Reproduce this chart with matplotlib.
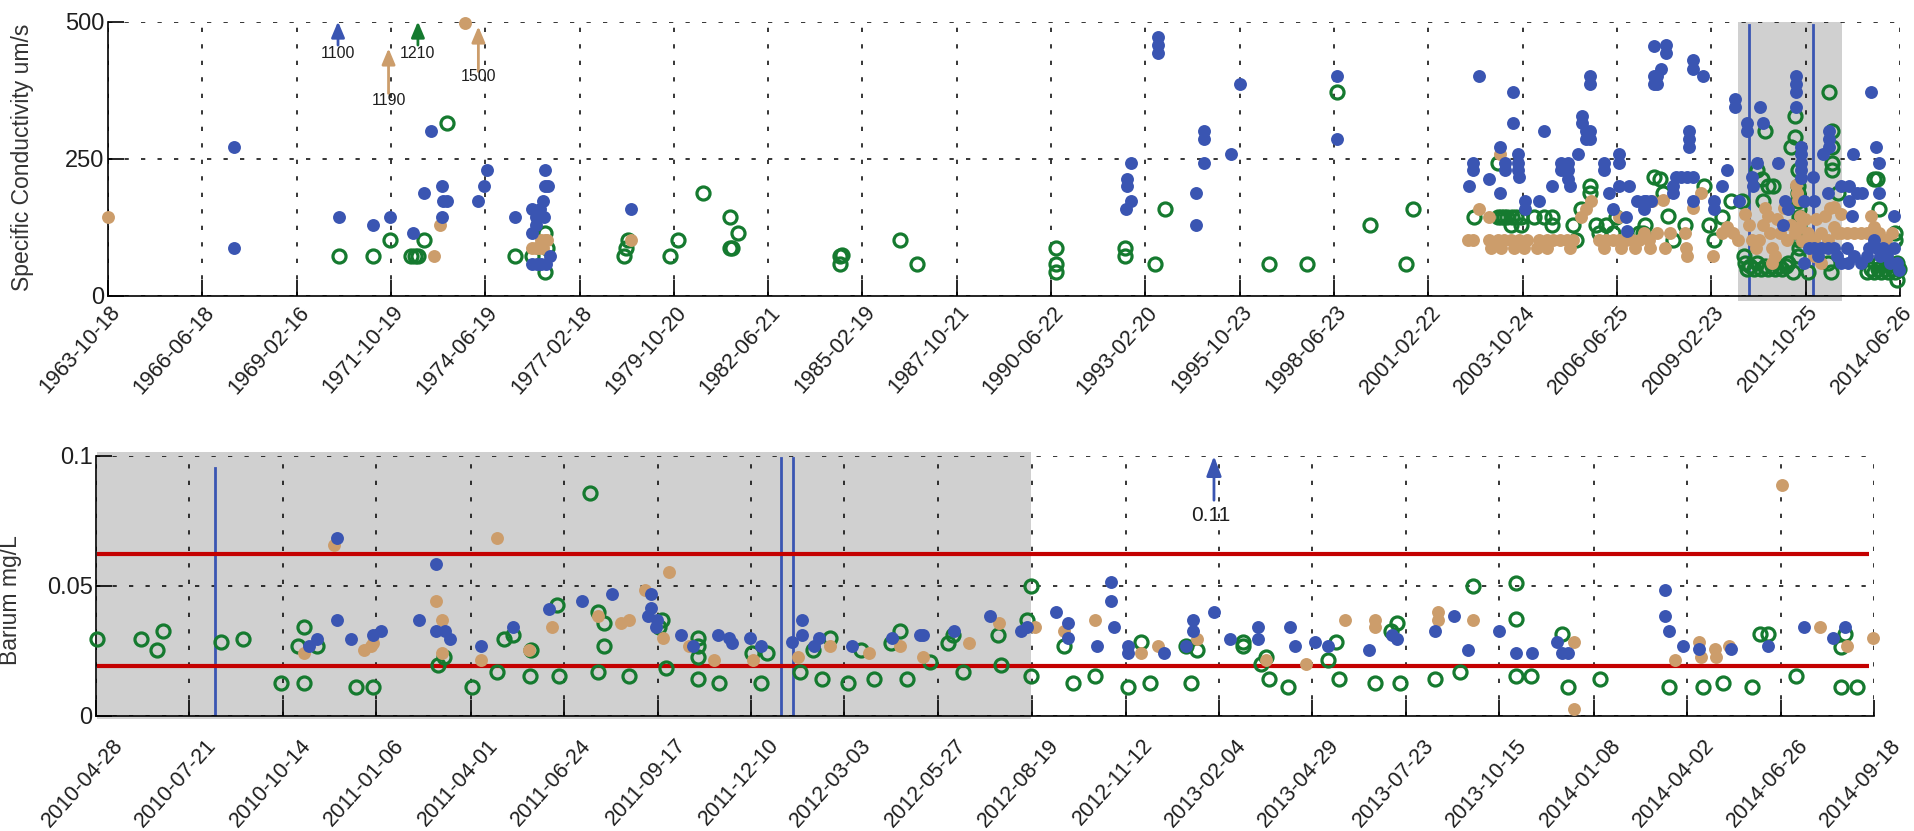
import numpy as np
import matplotlib
matplotlib.use("Agg")
import matplotlib.pyplot as plt
import matplotlib.dates as mdates
from datetime import datetime, timedelta
from matplotlib.transforms import ScaledTranslation

plt.rcParams['font.family'] = ['Liberation Sans', 'DejaVu Sans']

# ---------------- data ----------------
cond_ticks = ['1963-10-18', '1966-06-18', '1969-02-16', '1971-10-19', '1974-06-19',
              '1977-02-18', '1979-10-20', '1982-06-21', '1985-02-19', '1987-10-21',
              '1990-06-22', '1993-02-20', '1995-10-23', '1998-06-23', '2001-02-22',
              '2003-10-24', '2006-06-25', '2009-02-23', '2011-10-25', '2014-06-26']
ba_ticks = ['2010-04-28', '2010-07-21', '2010-10-14', '2011-01-06', '2011-04-01',
            '2011-06-24', '2011-09-17', '2011-12-10', '2012-03-03', '2012-05-27',
            '2012-08-19', '2012-11-12', '2013-02-04', '2013-04-29', '2013-07-23',
            '2013-10-15', '2014-01-08', '2014-04-02', '2014-06-26', '2014-09-18']

# specific conductivity (decimal year, uS/cm)
cond_blue = [
    (1967.35, 272), (1967.35, 87), (1970.34, 143), (1971.30, 129), (1971.76, 143),
    (1972.43, 115), (1972.72, 187), (1972.94, 301), (1973.23, 143), (1973.23, 201),
    (1973.26, 173), (1973.38, 173), (1974.27, 173), (1974.43, 201), (1974.50, 230),
    (1975.32, 143), (1975.80, 158), (1975.80, 115), (1975.80, 58), (1975.90, 143),
    (1975.90, 129), (1975.92, 58), (1976.00, 143), (1976.02, 158), (1976.05, 58),
    (1976.10, 173), (1976.12, 143), (1976.15, 201), (1976.15, 230), (1976.17, 58),
    (1976.25, 201), (1976.30, 73), (1978.59, 158),
    (1992.60, 158), (1992.62, 201), (1992.62, 214), (1992.72, 173), (1992.72, 243),
    (1993.50, 471), (1993.50, 457), (1993.50, 443), (1994.56, 129), (1994.56, 187),
    (1994.80, 301), (1994.80, 286), (1994.80, 243), (1995.57, 258), (1995.81, 386),
    (1998.57, 400), (1998.57, 286),
    (2002.29, 201), (2002.40, 243), (2002.40, 230), (2002.56, 400), (2002.86, 214),
    (2003.17, 272), (2003.17, 187), (2003.30, 243), (2003.30, 230), (2003.54, 371),
    (2003.54, 315), (2003.68, 258), (2003.68, 243), (2003.68, 230), (2003.70, 217),
    (2003.89, 173), (2003.89, 158), (2004.26, 173), (2004.40, 301), (2004.63, 201),
    (2004.90, 243), (2004.90, 230), (2005.08, 243), (2005.08, 230), (2005.10, 214),
    (2005.15, 201), (2005.38, 258), (2005.50, 328), (2005.50, 315), (2005.60, 301),
    (2005.60, 286), (2005.72, 400), (2005.72, 386), (2005.72, 301), (2005.72, 286),
    (2006.10, 243), (2006.10, 230), (2006.24, 187), (2006.35, 158), (2006.54, 258),
    (2006.54, 243), (2006.54, 201), (2006.73, 143), (2006.75, 119), (2006.82, 201),
    (2007.05, 173), (2007.24, 173), (2007.24, 158), (2007.52, 455), (2007.52, 400),
    (2007.52, 386), (2007.30, 173), (2007.45, 173), (2007.60, 400), (2007.62, 386),
    (2007.73, 414), (2007.87, 457), (2007.87, 443), (2008.06, 187), (2008.05, 201),
    (2008.15, 217), (2008.30, 217), (2008.45, 217), (2008.62, 217), (2008.62, 429),
    (2008.62, 414), (2008.92, 400), (2008.51, 301), (2008.51, 286), (2008.51, 272),
    (2008.62, 173), (2009.22, 173), (2009.22, 158), (2009.46, 201), (2009.60, 230),
    (2009.81, 358), (2009.81, 344), (2009.92, 173), (2010.16, 315), (2010.16, 301),
    (2010.30, 217), (2010.32, 201), (2010.43, 243), (2010.53, 344), (2010.62, 315),
    (2011.04, 243), (2011.23, 173), (2011.32, 158), (2011.18, 129), (2011.55, 400),
    (2011.55, 386), (2011.55, 371), (2011.55, 344), (2011.67, 272), (2011.67, 258),
    (2011.67, 243), (2011.67, 230), (2011.67, 215), (2011.78, 173), (2012.06, 173),
    (2012.02, 217), (2012.30, 258), (2012.48, 301), (2012.48, 286), (2012.48, 272),
    (2012.44, 187), (2012.81, 201), (2013.04, 201), (2013.04, 173), (2013.15, 258),
    (2013.27, 187), (2013.41, 187), (2013.65, 371), (2013.80, 272), (2013.88, 243),
    (2013.88, 187), (2013.13, 145), (2014.30, 145),
    (2011.78, 60), (2011.92, 87), (2012.06, 87), (2012.25, 87), (2012.44, 87),
    (2012.62, 87), (2012.81, 60), (2012.99, 87), (2013.18, 73), (2013.37, 60),
    (2013.55, 73), (2013.74, 102), (2013.83, 87), (2013.93, 73), (2014.11, 73),
    (2014.20, 60), (2014.39, 60), (2014.46, 47), (2014.30, 87), (2012.15, 73),
    (2012.70, 73), (2013.00, 60), (2013.60, 87), (2014.00, 87)]

cond_tan = [
    (1963.80, 143), (1973.00, 73), (1973.17, 129), (1973.89, 498), (1975.80, 87),
    (1975.90, 87), (1976.00, 87), (1976.05, 102), (1976.10, 87), (1976.15, 102),
    (1976.22, 102), (1978.59, 102),
    (2002.26, 102), (2002.40, 102), (2002.58, 158), (2002.86, 143), (2002.86, 102),
    (2002.90, 87), (2003.10, 102), (2003.17, 258), (2003.19, 87), (2003.28, 102),
    (2003.47, 102), (2003.56, 87), (2003.70, 102), (2003.84, 87), (2003.94, 102),
    (2004.21, 87), (2004.26, 102), (2004.49, 102), (2004.49, 87), (2004.68, 102),
    (2004.86, 102), (2005.05, 102), (2005.14, 87), (2005.24, 102), (2005.47, 143),
    (2005.61, 158), (2005.75, 173), (2005.98, 102), (2006.10, 87), (2006.17, 102),
    (2006.35, 102), (2006.54, 102), (2006.54, 143), (2006.60, 87), (2006.73, 102),
    (2006.91, 102), (2007.00, 87), (2007.10, 102), (2007.38, 102), (2007.47, 173),
    (2007.25, 115), (2007.40, 87), (2007.60, 115), (2007.78, 175), (2007.85, 87),
    (2007.97, 115), (2008.40, 115), (2008.42, 87), (2008.45, 73), (2008.62, 160),
    (2008.85, 187), (2009.18, 73), (2009.46, 115), (2009.60, 126), (2009.75, 115),
    (2009.90, 102), (2010.10, 150), (2010.30, 102), (2010.40, 87), (2010.50, 102),
    (2010.67, 160), (2010.76, 145), (2010.80, 115), (2010.85, 87), (2010.85, 60),
    (2010.95, 73), (2011.10, 115), (2011.30, 102), (2011.50, 115), (2011.55, 202),
    (2011.58, 187), (2011.60, 175), (2011.65, 145), (2011.65, 126), (2011.88, 115),
    (2012.06, 102), (2012.06, 73), (2012.25, 115), (2012.25, 60), (2012.44, 102),
    (2012.62, 163), (2012.62, 126), (2012.80, 150), (2012.81, 115), (2012.99, 115),
    (2013.18, 115), (2013.37, 115), (2013.55, 115), (2013.65, 145), (2013.74, 126),
    (2013.90, 115), (2014.10, 102), (2014.25, 115), (2010.20, 130), (2010.60, 130),
    (2011.00, 140), (2011.20, 160), (2011.40, 130), (2011.70, 100), (2011.80, 140),
    (2012.10, 140), (2012.35, 145), (2012.50, 160), (2012.70, 115)]

cond_green = [
    (1970.34, 73), (1971.30, 73), (1971.76, 102), (1972.37, 73), (1972.47, 73),
    (1972.56, 73), (1972.72, 102), (1973.38, 315), (1975.32, 73), (1975.80, 73),
    (1976.15, 115), (1976.15, 44), (1976.20, 87), (1978.40, 73), (1978.45, 87),
    (1978.50, 102), (1979.70, 73), (1979.93, 102), (1980.63, 187), (1981.39, 143),
    (1981.60, 115), (1981.40, 87), (1981.45, 87), (1984.50, 73), (1984.50, 58),
    (1984.55, 75), (1986.20, 102), (1986.67, 58), (1990.60, 87), (1990.60, 58),
    (1990.60, 44), (1992.56, 87), (1992.56, 73), (1993.40, 58), (1993.70, 158),
    (1996.64, 58), (1997.70, 58), (1998.57, 371), (1999.48, 129), (2000.52, 58),
    (2000.70, 158),
    (2002.44, 143), (2003.10, 243), (2003.10, 143), (2003.19, 143), (2003.28, 143),
    (2003.37, 143), (2003.47, 129), (2003.51, 143), (2003.61, 143), (2003.75, 143),
    (2003.75, 129), (2004.12, 143), (2004.40, 143), (2004.63, 143), (2004.63, 129),
    (2005.24, 129), (2005.33, 102), (2005.47, 158), (2005.70, 201), (2005.70, 187),
    (2005.89, 129), (2005.98, 115), (2006.17, 129), (2006.35, 115), (2006.45, 143),
    (2007.10, 115), (2007.28, 129), (2007.52, 217),
    (2007.22, 115), (2007.69, 214), (2007.78, 187), (2007.92, 145), (2008.06, 102),
    (2008.39, 129), (2008.95, 201), (2009.08, 129), (2009.22, 102), (2009.46, 143),
    (2009.69, 173), (2010.02, 173), (2010.08, 73), (2010.10, 60), (2010.43, 230),
    (2010.57, 214), (2010.67, 301), (2010.76, 201), (2010.90, 201), (2010.62, 173),
    (2011.41, 272), (2011.50, 290), (2011.50, 328), (2011.32, 60), (2011.46, 44),
    (2011.88, 44), (2011.60, 230), (2011.60, 201), (2012.48, 371), (2012.57, 301),
    (2012.57, 272), (2012.57, 243), (2012.57, 230), (2012.44, 60), (2012.53, 44),
    (2012.72, 187), (2013.74, 214), (2013.83, 214), (2013.88, 158), (2014.35, 115),
    (2014.35, 102), (2014.40, 29), (2014.40, 60),
    (2010.15, 50), (2010.25, 55), (2010.35, 50), (2010.45, 60), (2010.55, 50),
    (2010.65, 55), (2010.75, 50), (2010.85, 55), (2010.95, 50), (2011.05, 55),
    (2011.15, 50), (2011.25, 55), (2011.60, 187), (2011.60, 173), (2011.62, 158),
    (2011.62, 143), (2011.64, 129), (2011.64, 115), (2011.64, 102), (2011.62, 87),
    (2011.60, 73), (2013.55, 44), (2013.65, 50), (2013.75, 44), (2013.85, 50),
    (2013.95, 44), (2014.05, 50), (2014.15, 44), (2014.25, 50), (2014.35, 44),
    (2014.45, 50), (2013.90, 60), (2014.10, 60)]

# barium (decimal year, mg/L)
ba_blue = [
    (2010.848, 0.0269), (2010.868, 0.0296), (2010.916, 0.0686), (2010.916, 0.0369),
    (2010.951, 0.0296), (2011.006, 0.0313), (2011.026, 0.0327), (2011.120, 0.0369),
    (2011.162, 0.0585), (2011.160, 0.0327), (2011.182, 0.0327), (2011.196, 0.0296),
    (2011.273, 0.0269), (2011.350, 0.0341), (2011.441, 0.0412), (2011.521, 0.0441),
    (2011.596, 0.0469), (2011.692, 0.0469), (2011.692, 0.0414), (2011.684, 0.0385),
    (2011.708, 0.0369), (2011.704, 0.0341), (2011.766, 0.0313), (2011.795, 0.0269),
    (2011.858, 0.0313), (2011.885, 0.0299), (2011.893, 0.0282), (2011.937, 0.0299),
    (2011.965, 0.0269), (2012.041, 0.0286), (2012.066, 0.0369), (2012.066, 0.0313),
    (2012.095, 0.0269), (2012.107, 0.0299), (2012.189, 0.0269), (2012.288, 0.0299),
    (2012.356, 0.0313), (2012.364, 0.0313), (2012.439, 0.0327), (2012.529, 0.0385),
    (2012.604, 0.0327), (2012.620, 0.0341), (2012.691, 0.0399), (2012.720, 0.0356),
    (2012.720, 0.0299), (2012.793, 0.0269), (2012.828, 0.0514), (2012.828, 0.0441),
    (2012.835, 0.0341), (2012.869, 0.0269), (2012.869, 0.0241), (2012.957, 0.0241),
    (2013.012, 0.0269), (2013.030, 0.0369), (2013.030, 0.0327), (2013.081, 0.0399),
    (2013.120, 0.0296), (2013.190, 0.0341), (2013.190, 0.0296), (2013.270, 0.0341),
    (2013.282, 0.0269), (2013.330, 0.0286), (2013.363, 0.0269), (2013.464, 0.0254),
    (2013.520, 0.0313), (2013.534, 0.0296), (2013.627, 0.0327), (2013.675, 0.0385),
    (2013.710, 0.0254), (2013.786, 0.0327), (2013.828, 0.0241), (2013.868, 0.0241),
    (2013.930, 0.0286), (2013.940, 0.0241), (2013.955, 0.0241), (2014.196, 0.0485),
    (2014.196, 0.0385), (2014.206, 0.0327), (2014.240, 0.0269), (2014.280, 0.0256),
    (2014.360, 0.0256), (2014.450, 0.0269), (2014.540, 0.0341), (2014.610, 0.0299),
    (2014.640, 0.0341)]

ba_tan = [
    (2010.834, 0.0241), (2010.908, 0.0658), (2010.983, 0.0254), (2011.000, 0.0269),
    (2011.006, 0.0282), (2011.162, 0.0441), (2011.176, 0.0369), (2011.176, 0.0241),
    (2011.312, 0.0686), (2011.273, 0.0215), (2011.390, 0.0254), (2011.447, 0.0341),
    (2011.562, 0.0385), (2011.617, 0.0356), (2011.637, 0.0369), (2011.678, 0.0485),
    (2011.736, 0.0555), (2011.722, 0.0299), (2011.787, 0.0269), (2011.849, 0.0215),
    (2011.945, 0.0215), (2012.055, 0.0226), (2012.134, 0.0269), (2012.230, 0.0241),
    (2012.306, 0.0269), (2012.363, 0.0228), (2012.476, 0.0282), (2012.552, 0.0356),
    (2012.640, 0.0341), (2012.710, 0.0327), (2012.787, 0.0369), (2012.902, 0.0241),
    (2012.943, 0.0269), (2013.040, 0.0296), (2013.210, 0.0215), (2013.308, 0.0200),
    (2013.404, 0.0369), (2013.478, 0.0369), (2013.478, 0.0341), (2013.635, 0.0399),
    (2013.635, 0.0369), (2013.722, 0.0369), (2013.970, 0.0286), (2013.970, 0.0026),
    (2014.220, 0.0215), (2014.280, 0.0286), (2014.285, 0.0228), (2014.320, 0.0256),
    (2014.322, 0.0228), (2014.355, 0.0269), (2014.484, 0.0888), (2014.580, 0.0341),
    (2014.645, 0.0269), (2014.710, 0.0299)]

ba_green = [
    (2010.323, 0.0296), (2010.431, 0.0296), (2010.472, 0.0254), (2010.486, 0.0327),
    (2010.630, 0.0283), (2010.684, 0.0296), (2010.779, 0.0126), (2010.834, 0.0126),
    (2010.834, 0.0341), (2010.820, 0.0269), (2010.868, 0.0269), (2010.963, 0.0113),
    (2011.004, 0.0113), (2011.180, 0.0228), (2011.165, 0.0196), (2011.250, 0.0113),
    (2011.312, 0.0168), (2011.330, 0.0296), (2011.350, 0.0313), (2011.392, 0.0154),
    (2011.395, 0.0254), (2011.460, 0.0427), (2011.466, 0.0154), (2011.541, 0.0859),
    (2011.562, 0.0401), (2011.577, 0.0356), (2011.577, 0.0269), (2011.562, 0.0168),
    (2011.637, 0.0154), (2011.720, 0.0369), (2011.712, 0.0341), (2011.730, 0.0183),
    (2011.808, 0.0299), (2011.808, 0.0269), (2011.808, 0.0228), (2011.808, 0.0141),
    (2011.861, 0.0126), (2011.942, 0.0241), (2011.978, 0.0241), (2011.963, 0.0126),
    (2012.060, 0.0168), (2012.092, 0.0254), (2012.134, 0.0299), (2012.115, 0.0141),
    (2012.210, 0.0254), (2012.178, 0.0126), (2012.242, 0.0141), (2012.284, 0.0282),
    (2012.306, 0.0327), (2012.324, 0.0141), (2012.382, 0.0209), (2012.424, 0.0282),
    (2012.438, 0.0313), (2012.462, 0.0168), (2012.549, 0.0313), (2012.557, 0.0196),
    (2012.620, 0.0369), (2012.631, 0.0500), (2012.631, 0.0154), (2012.712, 0.0269),
    (2012.733, 0.0126), (2012.787, 0.0154), (2012.869, 0.0113), (2012.902, 0.0286),
    (2012.922, 0.0126), (2013.012, 0.0269), (2013.024, 0.0126), (2013.040, 0.0254),
    (2013.153, 0.0286), (2013.153, 0.0269), (2013.210, 0.0228), (2013.196, 0.0200),
    (2013.216, 0.0141), (2013.263, 0.0113), (2013.383, 0.0286), (2013.363, 0.0215),
    (2013.391, 0.0141), (2013.479, 0.0126), (2013.518, 0.0327), (2013.534, 0.0356),
    (2013.540, 0.0126), (2013.627, 0.0141), (2013.690, 0.0168), (2013.722, 0.0500),
    (2013.828, 0.0513), (2013.828, 0.0372), (2013.828, 0.0154), (2013.864, 0.0154),
    (2013.940, 0.0314), (2013.955, 0.0113), (2014.034, 0.0141), (2014.205, 0.0113),
    (2014.290, 0.0113), (2014.340, 0.0126), (2014.410, 0.0113), (2014.430, 0.0314),
    (2014.450, 0.0314), (2014.520, 0.0154), (2014.630, 0.0267), (2014.640, 0.0314),
    (2014.630, 0.0113), (2014.670, 0.0113)]

# off-scale readings shown as arrows: (decimal year, label, color key)
cond_offscale = [(1970.30, '1100', 'blue'), (1971.73, '1190', 'tan'),
                 (1972.56, '1210', 'green'), (1974.27, '1500', 'tan')]
ba_offscale = [(2013.081, '0.11', 'blue')]

cond_window = (2009.90, 2012.83)
cond_events = [2010.22, 2012.02]
ba_window = (2010.323, 2012.631)
ba_events = [2010.614, 2012.013, 2012.042]
ba_limits = [0.0623, 0.0192]

# ---------------- style ----------------
COL = {'blue': '#3a55b2', 'tan': '#cc9d6b', 'green': '#157a2f'}
RED = '#c40000'
SHADE = '#d0d0d0'
TXT = '#1e1e1e'


def yr2num(y):
    out = []
    for v in np.atleast_1d(y):
        yr = int(np.floor(v))
        start = datetime(yr, 1, 1)
        ndays = (datetime(yr + 1, 1, 1) - start).days
        out.append(mdates.date2num(start + timedelta(days=(v - yr) * ndays)))
    return np.array(out)


def d2n(s):
    return mdates.date2num(datetime.strptime(s, '%Y-%m-%d'))


def draw_series(ax, pts, key):
    x = yr2num([p[0] for p in pts])
    y = np.array([p[1] for p in pts])
    if key == 'green':
        ax.plot(x, y, 'o', ms=9.4, mfc='none', mec=COL[key], mew=2.3,
                clip_on=False, zorder=3)
    else:
        ax.plot(x, y, 'o', ms=9.3, mfc=COL[key], mec='none',
                clip_on=False, zorder=4 if key == 'blue' else 3.5)


def style_axes(ax, ticks, xoff, yoff):
    for s in ('top', 'right'):
        ax.spines[s].set_visible(False)
    for s in ('left', 'bottom'):
        ax.spines[s].set_linewidth(1.2)
        ax.spines[s].set_color('black')
    ax.set_axisbelow(True)
    ax.grid(True, color='black', linestyle=(0, (2.8, 8)), linewidth=1.1)
    pos = [d2n(t) for t in ticks]
    ax.set_xticks(pos)
    ax.set_xlim(pos[0], pos[-1])
    ax.tick_params(axis='both', direction='in', length=11.5, width=1.2,
                   colors='black', labelcolor=TXT)
    ax.tick_params(axis='y', labelsize=17, pad=2.5)
    ax.tick_params(axis='x', labelsize=15.5, pad=0)
    ax.set_xticklabels(ticks, rotation=48, ha='right', va='center',
                       rotation_mode='anchor')
    off = ScaledTranslation(xoff / 100.0, -yoff / 100.0, ax.figure.dpi_scale_trans)
    for lab in ax.get_xticklabels():
        lab.set_transform(lab.get_transform() + off)


fig = plt.figure(figsize=(19.15, 8.31), dpi=100)
W, H = 1915.0, 831.0
ax1 = fig.add_axes([108 / W, 1 - 296 / H, (1900 - 108) / W, (296 - 21.5) / H])
ax2 = fig.add_axes([96 / W, 1 - 716 / H, (1874 - 96) / W, (716 - 456) / H])

# ---------------- conductivity panel ----------------
ax1.set_ylim(0, 500)
ax1.set_yticks([0, 250, 500])
style_axes(ax1, cond_ticks, 9, 13)
ax1.axvspan(yr2num(cond_window[0])[0], yr2num(cond_window[1])[0], ymin=-0.017,
            ymax=1.0, color=SHADE, lw=0, zorder=0.2, clip_on=False)
for ev in cond_events:
    ax1.plot(yr2num([ev, ev]), [0, 493], color=COL['blue'], lw=2.0, zorder=2.5)
draw_series(ax1, cond_green, 'green')
draw_series(ax1, cond_tan, 'tan')
draw_series(ax1, cond_blue, 'blue')
arrow_tops = {'1100': (457, 500, 442), '1190': (369, 451, 357),
              '1210': (457, 500, 442), '1500': (409, 491, 400)}
for yr, lab, key in cond_offscale:
    x = yr2num(yr)[0]
    y0, y1, ty = arrow_tops[lab]
    ax1.annotate('', xy=(x, y1), xytext=(x, y0),
                 arrowprops=dict(arrowstyle='-|>,head_length=0.95,head_width=0.4',
                                 mutation_scale=10, lw=2.0, color=COL[key],
                                 shrinkA=0, shrinkB=0), zorder=5)
    ax1.text(x, ty, lab, ha='center', va='center', fontsize=11.5, color=TXT,
             zorder=5)
ax1.set_ylabel('Specific Conductivity um/s', fontsize=16.5, color='#333333')
ax1.yaxis.set_label_coords(-0.0413, 0.504)

# ---------------- barium panel ----------------
ax2.set_ylim(0, 0.1)
ax2.set_yticks([0, 0.05, 0.1])
ax2.set_yticklabels(['0', '0.05', '0.1'])
style_axes(ax2, ba_ticks, 24, 26)
ax2.axvspan(yr2num(ba_window[0])[0], yr2num(ba_window[1])[0], ymin=-0.013,
            ymax=1.017, color=SHADE, lw=0, zorder=0.2, clip_on=False)
ev_tops = [0.0955, 0.0991, 0.0991]
for ev, top in zip(ba_events, ev_tops):
    ax2.plot(yr2num([ev, ev]), [0, top], color=COL['blue'], lw=2.0, zorder=2.5)
for lim in ba_limits:
    ax2.plot(yr2num([2010.323, 2014.70]), [lim, lim], color=RED, lw=3.0,
             zorder=2.6, solid_capstyle='butt')
draw_series(ax2, ba_green, 'green')
draw_series(ax2, ba_tan, 'tan')
draw_series(ax2, ba_blue, 'blue')
for yr, lab, key in ba_offscale:
    x = yr2num(yr)[0]
    ax2.annotate('', xy=(x, 0.1), xytext=(x, 0.083),
                 arrowprops=dict(arrowstyle='-|>,head_length=1.2,head_width=0.45',
                                 mutation_scale=10, lw=2.0, color=COL[key],
                                 shrinkA=0, shrinkB=0), zorder=5)
    ax2.text(x - 3, 0.0773, lab, ha='center', va='center', fontsize=15,
             color=TXT, zorder=5)
ax2.set_ylabel('Barium mg/L', fontsize=16.5, color='#333333')
ax2.yaxis.set_label_coords(-0.0416, 0.446)

fig.savefig('out.png', dpi=100)
